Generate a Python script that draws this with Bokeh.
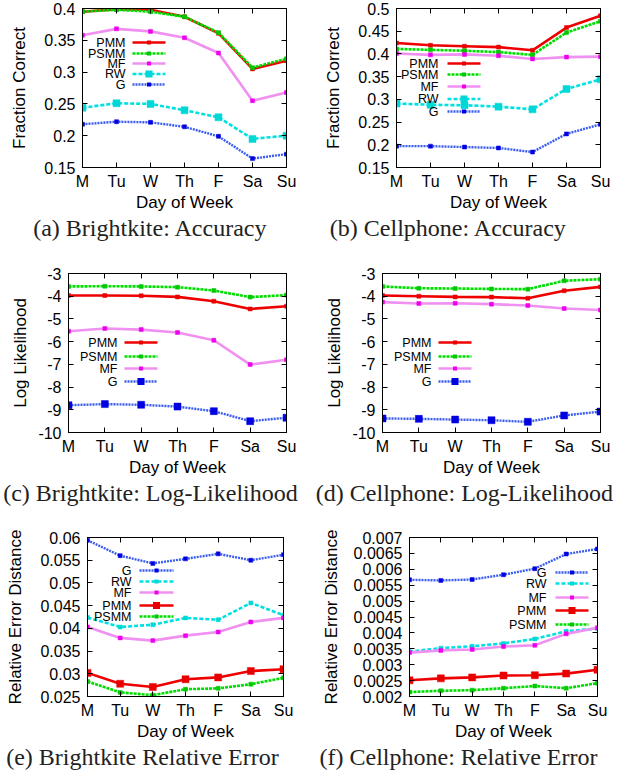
from bokeh.plotting import figure
from bokeh.layouts import column, row
from bokeh.models import (Range1d, FixedTicker, SingleIntervalTicker, LinearAxis,
                          PrintfTickFormatter, CustomJSTickFormatter, Label, Arrow,
                          BoxAnnotation, Title)
from bokeh.embed import file_html
from bokeh.resources import INLINE

days = ["M", "Tu", "W", "Th", "F", "Sa", "Su"]

# (a) Brightkite: Accuracy
bk_acc_pmm = [0.395, 0.399, 0.398, 0.387, 0.361, 0.305, 0.318]
bk_acc_psmm = [0.395, 0.398, 0.395, 0.387, 0.362, 0.307, 0.321]
bk_acc_mf = [0.358, 0.368, 0.364, 0.354, 0.330, 0.255, 0.268]
bk_acc_rw = [0.244, 0.251, 0.250, 0.240, 0.229, 0.195, 0.200]
bk_acc_g = [0.218, 0.222, 0.221, 0.214, 0.199, 0.164, 0.171]

# (b) Cellphone: Accuracy
cp_acc_pmm = [0.424, 0.419, 0.417, 0.415, 0.408, 0.458, 0.484]
cp_acc_psmm = [0.411, 0.409, 0.407, 0.404, 0.398, 0.447, 0.472]
cp_acc_mf = [0.401, 0.398, 0.399, 0.396, 0.389, 0.393, 0.394]
cp_acc_rw = [0.291, 0.288, 0.287, 0.284, 0.278, 0.323, 0.344]
cp_acc_g = [0.197, 0.197, 0.195, 0.193, 0.184, 0.224, 0.245]

# (c) Brightkite: Log-Likelihood
bk_ll_pmm = [-3.97, -3.97, -3.98, -4.03, -4.22, -4.56, -4.44]
bk_ll_psmm = [-3.57, -3.56, -3.57, -3.60, -3.75, -4.04, -3.95]
bk_ll_mf = [-5.54, -5.42, -5.47, -5.60, -5.94, -7.01, -6.80]
bk_ll_g = [-8.80, -8.75, -8.78, -8.86, -9.06, -9.50, -9.35]

# (d) Cellphone: Log-Likelihood
cp_ll_pmm = [-3.97, -4.00, -4.03, -4.04, -4.09, -3.76, -3.59]
cp_ll_psmm = [-3.57, -3.65, -3.66, -3.68, -3.69, -3.32, -3.25]
cp_ll_mf = [-4.26, -4.32, -4.31, -4.35, -4.41, -4.54, -4.61]
cp_ll_g = [-9.38, -9.40, -9.43, -9.46, -9.53, -9.25, -9.08]

# (e) Brightkite Relative Error
bk_err_g = [0.0594, 0.0560, 0.0543, 0.0553, 0.0564, 0.0550, 0.0562]
bk_err_rw = [0.0424, 0.0403, 0.0408, 0.0423, 0.0419, 0.0456, 0.0429]
bk_err_mf = [0.0403, 0.0379, 0.0373, 0.0384, 0.0392, 0.0414, 0.0423]
bk_err_pmm = [0.0302, 0.0278, 0.0271, 0.0288, 0.0292, 0.0306, 0.0310]
bk_err_psmm = [0.0283, 0.0259, 0.0253, 0.0266, 0.0268, 0.0277, 0.0291]

# (f) Cellphone: Relative Error
cp_err_g = [0.00567, 0.00565, 0.00568, 0.00583, 0.00602, 0.00648, 0.00664]
cp_err_rw = [0.00341, 0.00352, 0.00358, 0.00367, 0.00381, 0.00405, 0.00414]
cp_err_mf = [0.00338, 0.00345, 0.00348, 0.00357, 0.00361, 0.00397, 0.00416]
cp_err_pmm = [0.00251, 0.00257, 0.00260, 0.00266, 0.00267, 0.00272, 0.00284]
cp_err_psmm = [0.00214, 0.00218, 0.00220, 0.00226, 0.00233, 0.00226, 0.00242]

STY = {
    "PMM": dict(color="#ee0000", mcolor="#e80000", width=2.6, dash="solid"),
    "PSMM": dict(color="#00dd00", mcolor="#00c800", width=2.6, dash="3 1"),
    "MF": dict(color="#f090f0", mcolor="#ee00ee", width=2.6, dash="solid"),
    "RW": dict(color="#00e0e0", mcolor="#00d8d8", width=2.6, dash="4 2"),
    "G": dict(color="#3a5cf0", mcolor="#0000e0", width=2.4, dash="2 1"),
}

SANS = "Liberation Sans"
SERIF = "Liberation Serif"
CAP_PX = 24

# Times-metric character widths (per em), used to centre the captions
SERIF_W = {" ": .25, "(": .333, ")": .333, ":": .278, "-": .333, "a": .444,
           "b": .5, "c": .444, "d": .5, "e": .444, "f": .333, "g": .5, "h": .5,
           "i": .278, "k": .5, "l": .278, "n": .5, "o": .5, "p": .5, "r": .333,
           "t": .278, "u": .5, "v": .5, "y": .5, "A": .722, "B": .667, "C": .667,
           "E": .611, "L": .611, "R": .667}


def text_w(s, px):
    return sum(SERIF_W.get(ch, .5) for ch in s) * px


# geo = (page x of figure, fig width, border left, border right,
#        fig height, border top, border bottom)
panels = [
    dict(series=[("PMM", bk_acc_pmm), ("PSMM", bk_acc_psmm), ("MF", bk_acc_mf),
                 ("RW", bk_acc_rw), ("G", bk_acc_g)],
         big="RW", yr=(0.15, 0.4), step=0.05, ylabel="Fraction Correct",
         caption="(a) Brightkite: Accuracy",
         geo=(0, 314, 82, 28, 250, 8, 83), ylab_sd=12, cap_x=150,
         leg=(43, 50, 83, [34, 45, 55, 65.5, 76])),
    dict(series=[("PMM", cp_acc_pmm), ("PSMM", cp_acc_psmm), ("MF", cp_acc_mf),
                 ("RW", cp_acc_rw), ("G", cp_acc_g)],
         big="RW", yr=(0.15, 0.5), step=0.05, ylabel="Fraction Correct",
         caption="(b) Cellphone: Accuracy",
         geo=(314, 312, 82, 26, 250, 8, 83), ylab_sd=12, cap_x=448,
         leg=(42, 51, 84, [55, 66, 78, 90.5, 103])),
    dict(series=[("PMM", bk_ll_pmm), ("PSMM", bk_ll_psmm), ("MF", bk_ll_mf),
                 ("G", bk_ll_g)],
         big="G", yr=(-10, -3), step=1, ylabel="Log Likelihood",
         caption="(c) Brightkite: Log-Likelihood",
         geo=(0, 314, 68, 28, 260, 23, 78), ylab_sd=5, cap_x=150,
         leg=(49, 56, 89, [69, 83, 95, 108])),
    dict(series=[("PMM", cp_ll_pmm), ("PSMM", cp_ll_psmm), ("MF", cp_ll_mf),
                 ("G", cp_ll_g)],
         big="G", yr=(-10, -3), step=1, ylabel="Log Likelihood",
         caption="(d) Cellphone: Log-Likelihood",
         geo=(314, 312, 68, 26, 260, 23, 78), ylab_sd=5, cap_x=464,
         leg=(49, 56, 89, [69, 83, 95, 108])),
    dict(series=[("G", bk_err_g), ("RW", bk_err_rw), ("MF", bk_err_mf),
                 ("PMM", bk_err_pmm), ("PSMM", bk_err_psmm)],
         big="PMM", yr=(0.025, 0.06), step=0.005, ylabel="Relative Error Distance",
         caption="(e) Brightkite Relative Error",
         geo=(0, 314, 87, 31, 262, 27, 76), ylab_sd=12, cap_x=142,
         leg=(44, 52, 86, [33, 44, 55, 68, 79])),
    dict(series=[("G", cp_err_g), ("RW", cp_err_rw), ("MF", cp_err_mf),
                 ("PMM", cp_err_pmm), ("PSMM", cp_err_psmm)],
         big="PMM", yr=(0.002, 0.007), step=0.0005, ylabel="Relative Error Distance",
         caption="(f) Cellphone: Relative Error",
         geo=(314, 312, 95, 29, 262, 27, 76), ylab_sd=10, cap_x=458,
         leg=(137, 146, 179, [35, 46, 60, 73, 87])),
]


def make_panel(spec):
    X0, W, bl, br, H, bt, bb = spec["geo"]
    fw = W - bl - br
    fh = H - bt - bb
    xs = list(range(len(days)))
    p = figure(width=W, height=H,
               min_border_left=bl, min_border_right=br,
               min_border_top=bt, min_border_bottom=bb,
               x_range=Range1d(0, len(days) - 1),
               y_range=Range1d(*spec["yr"]),
               output_backend="svg", toolbar_location=None)
    p.grid.visible = False
    p.outline_line_color = "black"
    p.outline_line_width = 1
    p.background_fill_color = "white"
    p.border_fill_color = "white"

    empty = CustomJSTickFormatter(code="return ''")

    xa = p.xaxis[0]
    xa.ticker = FixedTicker(ticks=xs)
    xa.major_label_overrides = {i: d for i, d in enumerate(days)}
    xa.axis_label = "Day of Week"
    ya = p.yaxis[0]
    ya.ticker = SingleIntervalTicker(interval=spec["step"], num_minor_ticks=0)
    ya.formatter = PrintfTickFormatter(format="%.6g")
    ya.axis_label = spec["ylabel"]

    for ax in (xa, ya):
        ax.major_tick_in = 5
        ax.major_tick_out = 0
        ax.minor_tick_line_color = None
        ax.axis_line_color = "black"
        ax.major_tick_line_color = "black"
        ax.major_label_text_font = SANS
        ax.major_label_text_font_size = "16px"
        ax.major_label_text_color = "black"
        ax.axis_label_text_font = SANS
        ax.axis_label_text_font_size = "17px"
        ax.axis_label_text_font_style = "normal"
        ax.axis_label_text_color = "black"
    xa.major_label_standoff = 5
    xa.axis_label_standoff = 0
    ya.major_label_standoff = 7
    ya.axis_label_standoff = spec["ylab_sd"]

    # mirrored ticks on the right and top
    ry = LinearAxis(ticker=SingleIntervalTicker(interval=spec["step"], num_minor_ticks=0),
                    formatter=empty, major_tick_in=5, major_tick_out=0,
                    minor_tick_line_color=None, major_label_standoff=0,
                    major_label_text_font_size="1px")
    p.add_layout(ry, "right")
    tx = LinearAxis(ticker=FixedTicker(ticks=xs), formatter=empty,
                    major_tick_in=5, major_tick_out=0, minor_tick_line_color=None,
                    major_label_standoff=0, major_label_text_font_size="1px")
    p.add_layout(tx, "above")

    for name, vals in spec["series"]:
        s = STY[name]
        size = 7 if name == spec["big"] else 4
        p.line(xs, vals, line_color=s["color"], line_width=s["width"],
               line_dash=s["dash"])
        p.scatter(xs, vals, marker="square", size=size, fill_color=s["mcolor"],
                  line_color=s["mcolor"], line_width=0.5)

    # gnuplot-style key: right-aligned text followed by the line sample
    tr, lx0, lx1, rows_y = spec["leg"]
    for (name, _), yt in zip(spec["series"], rows_y):
        s = STY[name]
        y = fh - yt
        size = 7 if name == spec["big"] else 4
        p.add_layout(Label(x=tr, y=y, x_units="screen", y_units="screen",
                           text=name, text_align="right", text_baseline="middle",
                           text_font=SANS, text_font_size="12.5px",
                           text_color="black"))
        p.add_layout(Arrow(x_start=lx0, y_start=y, x_end=lx1, y_end=y,
                           start_units="screen", end_units="screen",
                           start=None, end=None, line_color=s["color"],
                           line_width=s["width"], line_dash=s["dash"]))
        cx = (lx0 + lx1) / 2
        p.add_layout(BoxAnnotation(left=cx - size / 2, right=cx + size / 2,
                                   bottom=y - size / 2, top=y + size / 2,
                                   left_units="screen", right_units="screen",
                                   top_units="screen", bottom_units="screen",
                                   fill_color=s["mcolor"], fill_alpha=1.0,
                                   line_color=None))

    # sub-figure caption
    frame_left_page = X0 + bl
    cap_off = spec["cap_x"] - frame_left_page - text_w(spec["caption"], CAP_PX) / 2
    p.add_layout(Title(text=spec["caption"], align="left", offset=cap_off,
                       text_font=SERIF, text_font_size=f"{CAP_PX}px",
                       text_font_style="normal", text_color="#222222",
                       standoff=-3), "below")
    return p


figs = [make_panel(s) for s in panels]
layout = column(row(figs[0], figs[1], spacing=0),
                row(figs[2], figs[3], spacing=0),
                row(figs[4], figs[5], spacing=0), spacing=0)

open("out.html", "w").write(file_html(layout, INLINE))
